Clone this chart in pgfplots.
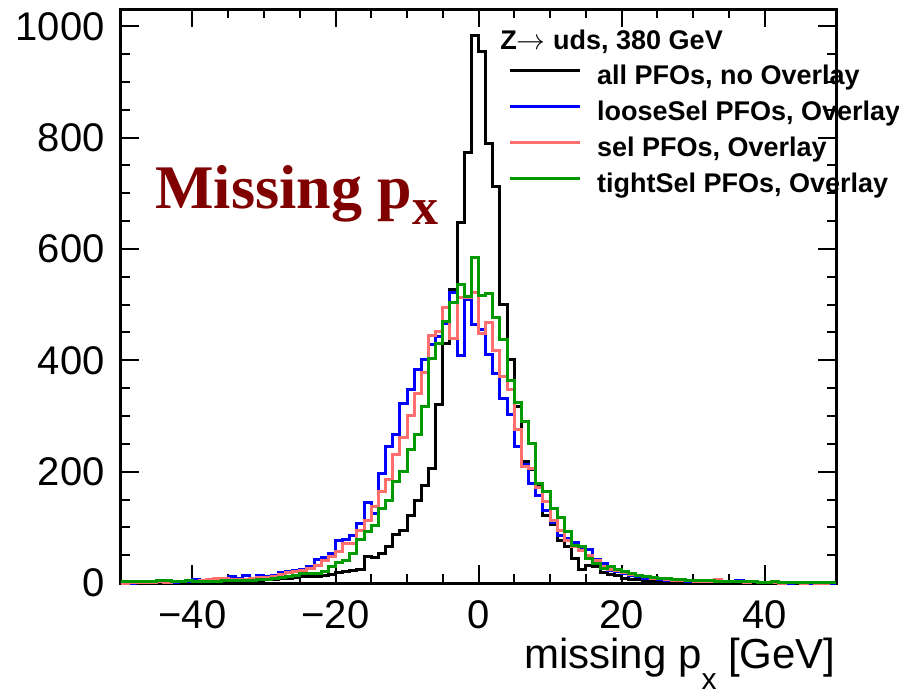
\documentclass[border=0pt]{standalone}
\usepackage{fontspec}
\setmainfont{Liberation Sans}
\newfontfamily\serifbf{Liberation Serif}
\usepackage{pgfplots}
\usepackage{pgfplotstable}
\pgfplotsset{compat=1.18}
\definecolor{hblue}{RGB}{0,0,255}
\definecolor{hred}{RGB}{255,110,110}
\definecolor{hgreen}{RGB}{0,153,0}
\definecolor{maroon}{RGB}{128,0,0}
\pgfplotstableread{
x black blue red green
-50 0 1 0 2
-49 1 0 1 2
-48 0 1 1 2
-47 1 1 1 2
-46 2 1 1 3
-45 1 2 2 4
-44 1 1 1 4
-43 0 1 2 3
-42 1 2 3 3
-41 1 3 4 4
-40 1 6 3 3
-39 2 5 4 3
-38 2 3 7 3
-37 2 4 8 3
-36 3 6 8 4
-35 3 11 7 4
-34 3 8 6 4
-33 4 14 7 5
-32 4 8 8 5
-31 5 14 10 6
-30 6 12 10 7
-29 7 14 12 8
-28 8 18 15 10
-27 9 20 18 12
-26 10 22 20 14
-25 11 24 23 17
-24 11 30 26 17
-23 12 42 32 17
-22 14 46 40 20
-21 16 53 47 29
-20 18 76 56 37
-19 20 78 71 41
-18 22 86 71 53
-17 25 107 95 79
-16 47 144 113 92
-15 46 125 137 104
-14 53 197 164 134
-13 65 246 186 148
-12 88 266 230 182
-11 95 323 262 200
-10 122 347 300 240
-9 149 383 340 266
-8 176 401 378 317
-7 206 428 445 404
-6 320 443 452 431
-5 431 467 494 470
-4 527 522 439 503
-3 648 408 512 536
-2 773 509 512 515
-1 984 464 522 584
0 955 455 449 517
1 790 410 468 520
2 713 377 418 477
3 500 331 371 437
4 401 302 347 364
5 317 246 275 324
6 218 213 210 290
7 203 178 206 251
8 176 158 172 179
9 122 131 146 164
10 105 108 113 134
11 77 85 95 117
12 65 80 77 93
13 44 72 65 68
14 24 61 58 66
15 32 60 50 44
16 29 42 40 35
17 18 35 30 26
18 15 22 25 29
19 14 20 22 24
20 9 17 19 20
21 7 14 15 17
22 6 11 13 14
23 5 9 11 12
24 5 8 9 10
25 4 6 8 9
26 3 5 6 8
27 3 5 5 7
28 2 4 4 6
29 2 3 4 5
30 2 3 3 5
31 1 3 3 4
32 1 2 2 4
33 1 2 6 3
34 1 2 2 3
35 1 3 2 3
36 0 5 2 2
37 1 2 1 2
38 0 2 2 2
39 1 1 1 1
40 0 1 1 1
41 1 1 1 2
42 0 1 0 1
43 0 0 1 1
44 1 1 1 1
45 0 1 0 1
46 0 0 1 1
47 1 1 0 1
48 0 1 0 1
49 0 0 1 1
50 0 0 1 1
}\hist
\begin{document}
\begin{tikzpicture}
\useasboundingbox (-60.5pt,-55pt) rectangle (389pt,291.5pt);
\begin{axis}[
  at={(0,0)}, anchor=south west,
  scale only axis, width=357.5pt, height=287pt,
  xmin=-50, xmax=50, ymin=0, ymax=1031,
  clip=false,
  tick align=inside, tick pos=both,
  xticklabel pos=lower, yticklabel pos=left,
  xtick={-40,-20,0,20,40},
  xticklabels={−40,−20,0,20,40},
  ytick={0,200,400,600,800,1000},
  yticklabels={0,200,400,600,800,1000},
  minor x tick num=3, minor y tick num=3,
  major tick length=9pt, minor tick length=4.5pt,
  every tick/.style={black, line width=1pt},
  axis line style={line width=1.5pt},
  ticklabel style={font=\fontsize{20}{24}\selectfont},
  yticklabel style={inner sep=0pt, xshift=-8pt},
  xticklabel style={inner sep=0pt, yshift=-8.5pt},
  xlabel={missing p\raisebox{-10.5pt}{\fontsize{15}{15}\selectfont x} [GeV]},
  xlabel style={font=\fontsize{21}{25}\selectfont, at={(axis description cs:1,0)}, anchor=base east, yshift=-42.5pt, inner sep=0pt},
  legend style={at={(axis description cs:0.5413,0.9024)}, anchor=north west, draw=none, fill=none,
    font=\fontsize{13.5}{16}\selectfont\bfseries, inner sep=0pt, outer sep=0pt, row sep=5.7pt, column sep=8pt,
    nodes={inner sep=0pt, text height=9.5pt, text depth=2.8pt}},
  legend cell align=left,
  legend image code/.code={\draw[#1] (0pt,3.5pt) -- (35pt,3.5pt);},
]
\addplot[const plot mark left, black, line width=1.5pt] table[x=x, y=black] {\hist};
\addlegendentry{all PFOs, no Overlay}
\addplot[const plot mark left, hblue, line width=1.5pt] table[x=x, y=blue] {\hist};
\addlegendentry{looseSel PFOs, Overlay}
\addplot[const plot mark left, hred, line width=1.5pt] table[x=x, y=red] {\hist};
\addlegendentry{sel PFOs, Overlay}
\addplot[const plot mark left, hgreen, line width=1.5pt] table[x=x, y=green] {\hist};
\addlegendentry{tightSel PFOs, Overlay}
\end{axis}
\node[anchor=base west, inner sep=0pt, font=\fontsize{13.5}{16}\selectfont\bfseries] at (189.5pt,267pt) {Z$\rightarrow$ uds, 380 GeV};
\node[anchor=base west, inner sep=0pt, text=maroon, font=\serifbf\bfseries\fontsize{31}{36}\selectfont] at (17pt,187.5pt) {Missing p\raisebox{-8pt}{\fontsize{26}{26}\selectfont x}};
\end{tikzpicture}
\end{document}
